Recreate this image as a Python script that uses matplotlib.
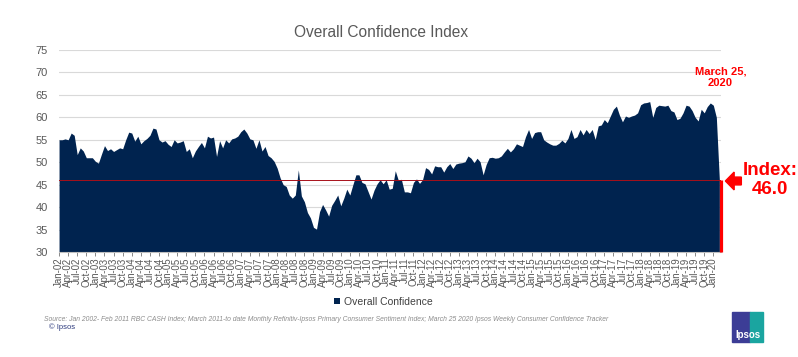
import matplotlib.pyplot as plt
from matplotlib.patches import FancyArrow, Rectangle

plt.rcParams['font.family'] = ['Liberation Sans', 'DejaVu Sans']

# -----------------------------
# Data (monthly Jan-02 .. Feb-20, then the March 25 2020 weekly reading)
# -----------------------------
confidence = [
    55.0, 55.0, 55.2, 55.0, 56.5, 56.0, 51.7, 53.2, 52.5, 51.0, 51.0, 51.0,   # 2002
    50.2, 49.8, 51.8, 53.7, 52.6, 53.0, 52.4, 52.8, 53.2, 53.0, 55.0, 56.7,   # 2003
    56.5, 54.7, 55.8, 54.1, 54.8, 55.3, 56.0, 57.6, 57.4, 55.0, 54.5, 54.8,   # 2004
    54.0, 53.5, 55.0, 54.3, 54.5, 54.8, 52.4, 53.0, 51.0, 52.5, 53.5, 54.4,   # 2005
    53.2, 55.8, 55.4, 55.6, 51.3, 54.8, 53.2, 55.0, 54.3, 55.2, 55.4, 55.8,   # 2006
    56.8, 57.4, 56.5, 55.2, 55.0, 53.1, 55.0, 52.5, 53.5, 51.5, 51.0, 50.2,   # 2007
    48.7, 46.5, 45.0, 44.6, 42.7, 42.0, 42.7, 48.3, 42.5, 41.2, 38.8, 37.6,   # 2008
    35.5, 35.1, 39.0, 40.6, 39.4, 38.0, 40.4, 41.5, 42.7, 40.3, 42.0, 44.0,   # 2009
    42.7, 45.0, 47.2, 47.2, 45.5, 45.2, 43.5, 41.8, 43.8, 45.2, 46.1, 45.2,   # 2010
    46.1, 44.0, 44.2, 48.1, 46.0, 46.2, 43.4, 43.4, 43.2, 45.5, 46.3, 45.3,   # 2011
    46.1, 48.8, 48.4, 47.4, 49.2, 49.0, 49.0, 47.8, 49.0, 49.7, 48.6, 49.6,   # 2012
    49.8, 49.9, 50.1, 51.4, 50.9, 49.9, 50.9, 50.1, 47.2, 49.5, 51.0, 51.1,   # 2013
    50.9, 51.0, 51.4, 52.3, 53.1, 52.3, 53.0, 54.1, 53.8, 53.5, 55.7, 57.3,   # 2014
    55.3, 56.6, 56.8, 56.8, 55.0, 54.5, 54.1, 53.8, 53.8, 54.2, 54.9, 54.3,   # 2015
    55.3, 57.3, 55.3, 55.7, 57.3, 56.1, 57.3, 56.4, 57.3, 55.1, 58.1, 58.3,   # 2016
    59.5, 58.8, 60.3, 61.8, 62.5, 60.5, 59.0, 60.3, 60.0, 60.3, 60.5, 61.0,   # 2017
    62.8, 63.2, 63.3, 63.5, 60.0, 62.2, 62.7, 62.6, 62.5, 62.7, 61.5, 61.2,   # 2018
    59.5, 59.8, 61.0, 62.7, 62.5, 61.5, 60.0, 59.2, 61.8, 61.0, 62.4, 63.2,   # 2019
    62.7, 60.0,                                                              # 2020
    46.0,                                                                    # Mar 25 2020
]
months = ["Jan", "Apr", "Jul", "Oct"]
tick_labels = [f"{m}-{y:02d}" for y in range(2, 21) for m in months][:73]
latest_value = 46.0

# -----------------------------
# Figure
# -----------------------------
fig = plt.figure(figsize=(7.98, 3.57), dpi=100)
ax = fig.add_axes([0.074, 0.294, 0.829, 0.566])

navy = "#00234f"
x = list(range(len(confidence)))
ax.fill_between(x, 30, confidence, color=navy, lw=0, zorder=2,
                label="Overall Confidence")
ax.axhline(latest_value, color="#a8101a", lw=0.7, zorder=3)
ax.plot([x[-1] + 0.6, x[-1] + 0.6], [30, latest_value], color="red", lw=2.3,
        zorder=4, clip_on=False, solid_capstyle="butt")

ax.set_xlim(0, x[-1] + 0.4)
ax.set_ylim(30, 75)
ax.set_yticks(range(30, 80, 5))
ax.set_xticks(range(0, 217, 3))
ax.set_xticklabels(tick_labels, rotation=90)
ax.tick_params(axis="x", labelsize=7, colors="#595959", length=3, width=0.5,
               pad=1)
ax.tick_params(axis="y", labelsize=8, colors="#595959", length=0, pad=8)
ax.grid(axis="y", color="#d9d9d9", lw=0.8, zorder=0)
for side in ["top", "right", "left"]:
    ax.spines[side].set_visible(False)
ax.spines["bottom"].set_color("#bfbfbf")

# -----------------------------
# Titles & annotations
# -----------------------------
fig.text(0.477, 0.91, "Overall Confidence Index", ha="center", va="center",
         fontsize=11.2, color="#595959")
fig.text(0.903, 0.784, "March 25,\n2020", ha="center", va="center",
         fontsize=8, fontweight="bold", color="red", linespacing=1.25)
fig.text(0.965, 0.496, "Index:\n46.0", ha="center", va="center",
         fontsize=13.5, fontweight="bold", color="red", linespacing=1.15)
fig.patches.append(FancyArrow(0.929, 0.493, -0.020, 0, width=0.022,
                              head_width=0.05, head_length=0.011,
                              length_includes_head=True, color="red",
                              transform=fig.transFigure, figure=fig))

ax.legend(loc="center", bbox_to_anchor=(0.49, -0.245), frameon=False,
          fontsize=7.5, handlelength=0.6, handleheight=0.6, handletextpad=0.3,
          labelcolor="#404040")

fig.text(0.055, 0.106,
         "Source: Jan 2002- Feb 2011 RBC CASH Index; March 2011-to date Monthly "
         "Refinitiv-Ipsos Primary Consumer Sentiment Index; March 25 2020 Ipsos "
         "Weekly Consumer Confidence Tracker",
         fontsize=4.9, style="italic", color="#8c8c8c", va="center")
fig.text(0.062, 0.084, "© Ipsos", fontsize=5.5, color="#2f3c7e", va="center")

# Ipsos logo
fig.patches.append(Rectangle((0.917, 0.042), 0.023, 0.084, color="#3c3d96",
                             transform=fig.transFigure, figure=fig))
fig.patches.append(Rectangle((0.940, 0.042), 0.016, 0.084, color="#1aa5a0",
                             transform=fig.transFigure, figure=fig))
fig.text(0.937, 0.062, "Ipsos", ha="center", va="center", fontsize=7,
         fontweight="bold", color="white")

fig.savefig("out.png", dpi=100)
